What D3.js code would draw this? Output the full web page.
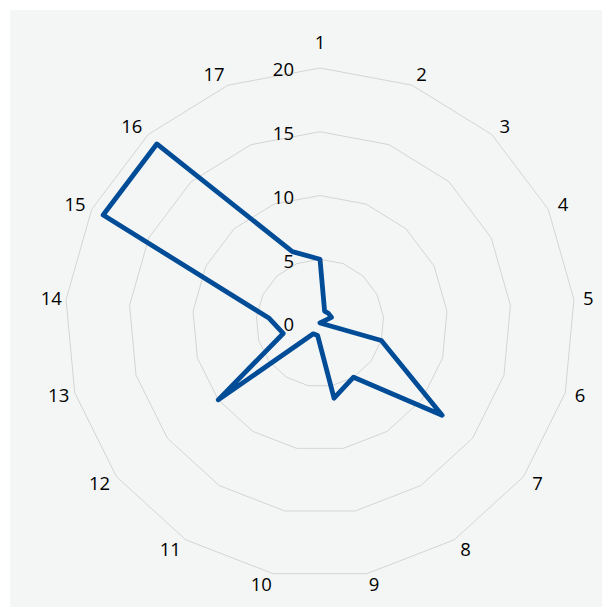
<!DOCTYPE html>
<html>
<head>
<meta charset="utf-8">
<style>
body { margin: 0; background: #fff; }
.ring { fill: none; stroke: #d4d4d4; stroke-width: 1px; }
.series { fill: none; stroke: #004c97; stroke-width: 4.8px; stroke-linejoin: round; }
text { font-family: "Open Sans", sans-serif; font-size: 18.5px; fill: #000; }
</style>
</head>
<body>
<script src="https://cdn.jsdelivr.net/npm/d3@7"></script>
<script>

// chart data
var categories = ["1","2","3","4","5","6","7","8","9","10","11","12","13","14","15","16","17"];
var values = [5, 1, 1, 1, 0, 5, 12, 5, 6, 1, 1, 10, 3, 4, 19, 19, 6];
var ticks = [0, 5, 10, 15, 20];

var width = 602,
    height = 608,
    cx = 320,
    cy = 323,
    R = 255;

var svg = d3.select("body").append("svg")
    .attr("width", width)
    .attr("height", height);

// plot area background
svg.append("rect")
    .attr("x", 10)
    .attr("y", 10)
    .attr("width", width - 10)
    .attr("height", height - 11)
    .attr("fill", "#f4f6f6");

var r = d3.scaleLinear().domain([0, 20]).range([0, R]);
var step = 2 * Math.PI / categories.length;

var g = svg.append("g").attr("transform", "translate(" + cx + "," + cy + ")");

// grid rings (polygons)
var ringLine = d3.lineRadial()
    .angle(function(d, i) { return i * step; })
    .radius(function(d) { return r(d); })
    .curve(d3.curveLinearClosed);

g.selectAll("path.ring")
    .data(ticks.filter(function(t) { return t > 0; }))
    .enter().append("path")
    .attr("class", "ring")
    .attr("d", function(t) { return ringLine(categories.map(function() { return t; })); });

// value axis labels
g.selectAll("text.tick")
    .data(ticks)
    .enter().append("text")
    .attr("class", "tick")
    .attr("x", -26)
    .attr("y", function(t) { return -r(t) + 2; })
    .attr("dy", "0.35em")
    .attr("text-anchor", "end")
    .text(function(t) { return t; });

// category labels
g.selectAll("text.cat")
    .data(categories)
    .enter().append("text")
    .attr("class", "cat")
    .attr("dy", "0.35em")
    .attr("text-anchor", "middle")
    .text(function(d) { return d; })
    .each(function(d, i) {
        var a = i * step,
            s = Math.sin(a),
            c = Math.cos(a),
            w = this.getComputedTextLength();
        var x = s * (R + 14) + Math.sign(Math.round(s * 1000)) * w / 2 * Math.abs(c) * 0.9;
        var y = -c * (R + 11);
        // keep clear of the "20" axis label at the top
        if (i === 0) y = -R - 25;
        d3.select(this).attr("x", x).attr("y", y);
    });

// series
g.append("path")
    .datum(values)
    .attr("class", "series")
    .attr("d", ringLine);

</script>
</body>
</html>
